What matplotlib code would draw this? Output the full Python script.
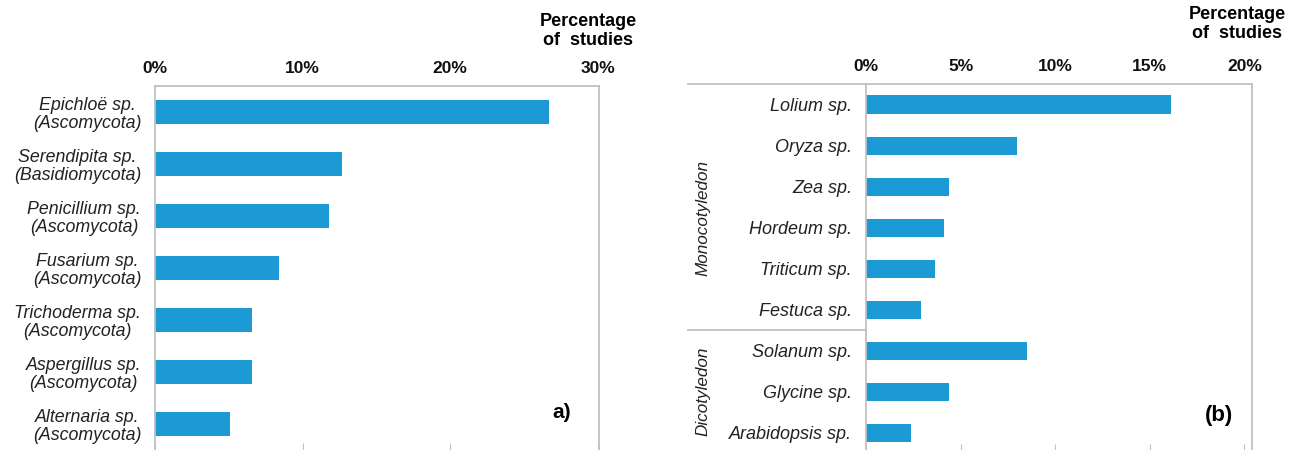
import matplotlib
matplotlib.use("Agg")
import matplotlib.pyplot as plt
from matplotlib.lines import Line2D

plt.rcParams['font.family'] = ['Liberation Sans', 'DejaVu Sans']

# ---- data ----
fungi_labels = ["Epichloë sp.\n(Ascomycota)", "Serendipita sp.\n(Basidiomycota)",
                "Penicillium sp.\n(Ascomycota)", "Fusarium sp.\n(Ascomycota)",
                "Trichoderma sp.\n(Ascomycota)", "Aspergillus sp.\n(Ascomycota)",
                "Alternaria sp.\n(Ascomycota)"]
fungi_values = [26.7, 12.7, 11.8, 8.4, 6.6, 6.6, 5.1]
fungi_ticks = [0, 10, 20, 30]

plant_labels = ["Lolium sp.", "Oryza sp.", "Zea sp.", "Hordeum sp.", "Triticum sp.",
                "Festuca sp.", "Solanum sp.", "Glycine sp.", "Arabidopsis sp."]
plant_values = [16.1, 8.0, 4.4, 4.1, 3.65, 2.9, 8.5, 4.4, 2.4]
plant_ticks = [0, 5, 10, 15, 20]
group_names = ["Monocotyledon", "Dicotyledon"]
group_sizes = [6, 3]

BAR = "#1b9ad6"
SPINE = "#c0c0c0"

W, H = 1296, 450
fig = plt.figure(figsize=(12.96, 4.5), dpi=100)

def style_axes(ax, ticks, xmax):
    ax.set_xlim(0, xmax)
    ax.xaxis.tick_top()
    ax.set_xticks(ticks)
    ax.set_xticklabels([f"{t}%" for t in ticks], fontsize=12.5, fontweight='bold', color='#111111')
    ax.tick_params(axis='x', which='both', top=False, bottom=True, direction='in',
                   length=6, color=SPINE, pad=7, labeltop=True, labelbottom=False)
    ax.tick_params(axis='y', length=0)
    for s in ax.spines.values():
        s.set_color(SPINE)
        s.set_linewidth(1.3)
    ax.spines['bottom'].set_visible(False)

def rect(l, t, r, b):
    return [l / W, 1 - b / H, (r - l) / W, (b - t) / H]

# ---- panel a ----
axA = fig.add_axes(rect(155, 86, 599, 451))
yA = list(range(len(fungi_labels)))
axA.barh(yA, fungi_values, height=0.46, color=BAR)
axA.set_ylim(6.52, -0.5)
style_axes(axA, fungi_ticks, 30.1)
axA.set_yticks(yA)
axA.set_yticklabels(fungi_labels, fontsize=12.8, fontstyle='italic', color='#222222',
                    linespacing=1.1, multialignment='center')
axA.tick_params(axis='y', pad=10)
axA.text(0.915, 0.105, "a)", transform=axA.transAxes, fontsize=15, fontweight='bold',
         ha='center', va='center')
fig.text(588 / W, 1 - 31 / H, "Percentage\nof  studies", ha='center', va='center',
         fontsize=13, fontweight='bold', linespacing=1.15)

# ---- panel b ----
axB = fig.add_axes(rect(866, 84, 1252, 452))
yB = list(range(len(plant_labels)))
axB.barh(yB, plant_values, height=0.44, color=BAR)
axB.set_ylim(8.47, -0.5)
style_axes(axB, plant_ticks, 20.4)
axB.set_yticks(yB)
axB.set_yticklabels(plant_labels, fontsize=13, fontstyle='italic', color='#222222')
axB.tick_params(axis='y', pad=10)

# extended top border and separator
xl = (688 - 866) / (1252 - 866)
axB.add_line(Line2D([xl, 0], [1, 1], transform=axB.transAxes, color=SPINE, lw=1.3, clip_on=False))
start = 0
bounds = []
for n in group_sizes[:-1]:
    start += n
    bounds.append(start - 0.5)
for b in bounds:
    axB.plot([xl, 0], [b, b], transform=axB.get_yaxis_transform(), color=SPINE, lw=1.3,
             clip_on=False)
# group labels
group_centers_px = [218, 391]
for name, ypx in zip(group_names, group_centers_px):
    fig.text(703 / W, 1 - ypx / H, name, rotation=90, ha='center', va='center',
             fontsize=12.3, fontstyle='italic', color='#222222')
axB.text(0.915, 0.1, "(b)", transform=axB.transAxes, fontsize=16, fontweight='bold',
         ha='center', va='center')
fig.text(1237 / W, 1 - 24 / H, "Percentage\nof  studies", ha='center', va='center',
         fontsize=13, fontweight='bold', linespacing=1.15)

fig.savefig("out.png", dpi=100)
